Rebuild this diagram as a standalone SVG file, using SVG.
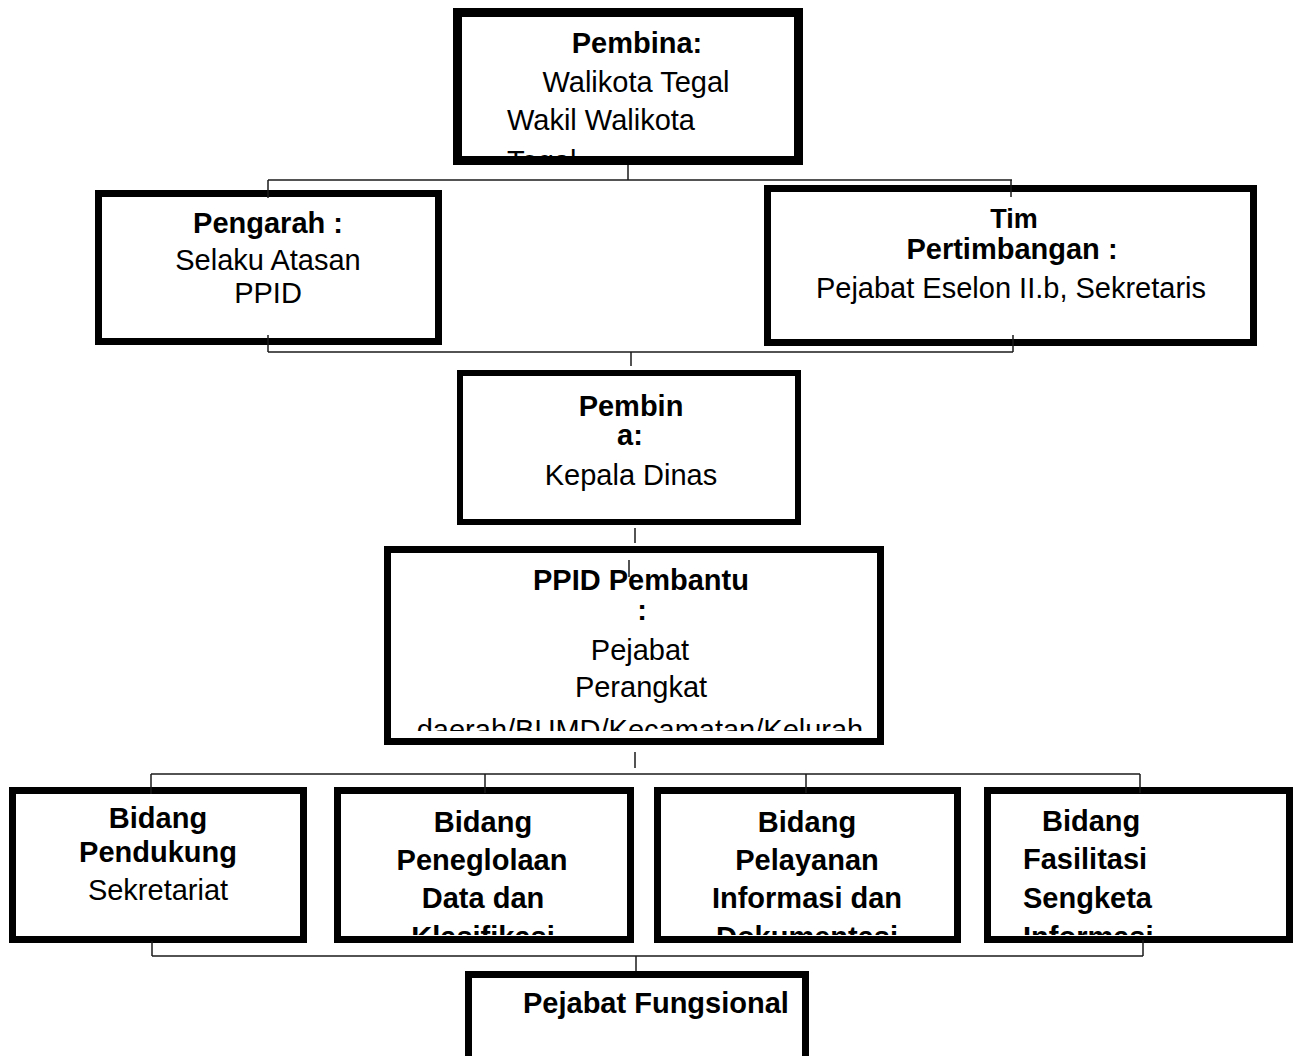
<svg xmlns="http://www.w3.org/2000/svg" width="1293" height="1056" viewBox="0 0 1293 1056">
<style>
text{font-family:"Liberation Sans",Arial,sans-serif;font-size:29px;fill:#000}
.b{font-weight:bold}
.c{text-anchor:middle}
.box{fill:#fff;stroke:#000}
.ln{stroke:#1a1a1a;stroke-width:1.5;fill:none}
</style>
<defs>
<clipPath id="cTop"><rect x="462" y="17" width="332" height="140"/></clipPath>
<clipPath id="cPPID"><rect x="391" y="553" width="486" height="178"/></clipPath>
<clipPath id="cB2"><rect x="341" y="794" width="286" height="141"/></clipPath>
<clipPath id="cB3"><rect x="661" y="794" width="293" height="141"/></clipPath>
<clipPath id="cB4"><rect x="991" y="794" width="300" height="141"/></clipPath>
</defs>
<rect width="1293" height="1056" fill="#fff"/>

<g id="n-pembina">
<rect class="box" x="457.5" y="12.5" width="341" height="148" stroke-width="9"/>
<g clip-path="url(#cTop)">
<text class="b c" x="637" y="53">Pembina:</text>
<text class="c" x="636" y="92">Walikota Tegal</text>
<text x="507" y="130">Wakil Walikota</text>
<text x="507" y="171">Tegal</text>
</g>
</g>

<g id="n-pengarah">
<rect class="box" x="98.5" y="193.5" width="340" height="148" stroke-width="7"/>
<text class="b c" x="268" y="233">Pengarah :</text>
<text class="c" x="268" y="270">Selaku Atasan</text>
<text class="c" x="268" y="303">PPID</text>
</g>

<g id="n-tim">
<rect class="box" x="767.5" y="188.5" width="486" height="154" stroke-width="7"/>
<text class="b c" x="1014" y="228" style="font-size:27px">Tim</text>
<text class="b c" x="1012" y="259">Pertimbangan :</text>
<text class="c" x="1011" y="298">Pejabat Eselon II.b, Sekretaris</text>
</g>

<g id="n-kepala">
<rect class="box" x="460" y="373" width="338" height="149" stroke-width="6"/>
<text class="b c" x="631" y="416">Pembin</text>
<text class="b c" x="630" y="445">a:</text>
<text class="c" x="631" y="485">Kepala Dinas</text>
</g>

<g id="n-ppid">
<rect class="box" x="387.5" y="549.5" width="493" height="192" stroke-width="7"/>
<g clip-path="url(#cPPID)">
<text class="b c" x="641" y="590">PPID Pembantu</text>
<text class="b c" x="642" y="620">:</text>
<text class="c" x="640" y="660">Pejabat</text>
<text class="c" x="641" y="697">Perangkat</text>
<text class="c" x="640" y="740">daerah/BUMD/Kecamatan/Kelurah</text>
</g>
</g>

<g id="n-pendukung">
<rect class="box" x="12.5" y="790.5" width="291" height="149" stroke-width="7"/>
<text class="b c" x="158" y="828">Bidang</text>
<text class="b c" x="158" y="862">Pendukung</text>
<text class="c" x="158" y="900">Sekretariat</text>
</g>

<g id="n-pengelolaan">
<rect class="box" x="337.5" y="790.5" width="293" height="149" stroke-width="7"/>
<g clip-path="url(#cB2)">
<text class="b c" x="483" y="832">Bidang</text>
<text class="b c" x="482" y="870">Peneglolaan</text>
<text class="b c" x="483" y="908">Data dan</text>
<text class="b c" x="483" y="947">Klasifikasi</text>
</g>
</g>

<g id="n-pelayanan">
<rect class="box" x="657.5" y="790.5" width="300" height="149" stroke-width="7"/>
<g clip-path="url(#cB3)">
<text class="b c" x="807" y="832">Bidang</text>
<text class="b c" x="807" y="870">Pelayanan</text>
<text class="b c" x="807" y="908">Informasi dan</text>
<text class="b c" x="807" y="947">Dokumentasi</text>
</g>
</g>

<g id="n-fasilitasi">
<rect class="box" x="987.5" y="790.5" width="302" height="149" stroke-width="7"/>
<g clip-path="url(#cB4)">
<text class="b" x="1042" y="831">Bidang</text>
<text class="b" x="1023" y="869">Fasilitasi</text>
<text class="b" x="1023" y="908">Sengketa</text>
<text class="b" x="1023" y="947">Informasi</text>
</g>
</g>

<g id="n-fungsional">
<rect class="box" x="468.5" y="974.5" width="337" height="120" stroke-width="7"/>
<text class="b" x="523" y="1013">Pejabat Fungsional</text>
</g>

<g id="connectors">
<line class="ln" x1="628" y1="165" x2="628" y2="180"/>
<line class="ln" x1="268" y1="180" x2="1012" y2="180"/>
<line class="ln" x1="268" y1="180" x2="268" y2="198"/>
<line class="ln" x1="1011" y1="180" x2="1011" y2="197"/>
<line class="ln" x1="268" y1="335" x2="268" y2="352"/>
<line class="ln" x1="268" y1="352" x2="1013" y2="352"/>
<line class="ln" x1="1013" y1="335" x2="1013" y2="352"/>
<line class="ln" x1="631" y1="352" x2="631" y2="366"/>
<line class="ln" x1="635" y1="528" x2="635" y2="543"/>
<line class="ln" x1="629" y1="560" x2="629" y2="577" stroke-width="1"/>
<line class="ln" x1="635" y1="752" x2="635" y2="768"/>
<line class="ln" x1="151" y1="774" x2="1140" y2="774"/>
<line class="ln" x1="151" y1="774" x2="151" y2="794"/>
<line class="ln" x1="485" y1="774" x2="485" y2="793"/>
<line class="ln" x1="806" y1="774" x2="806" y2="793"/>
<line class="ln" x1="1140" y1="774" x2="1140" y2="793"/>
<line class="ln" x1="152" y1="941" x2="152" y2="956"/>
<line class="ln" x1="152" y1="956" x2="1143" y2="956"/>
<line class="ln" x1="1143" y1="940" x2="1143" y2="956"/>
<line class="ln" x1="636" y1="956" x2="636" y2="971"/>
</g>
</svg>
